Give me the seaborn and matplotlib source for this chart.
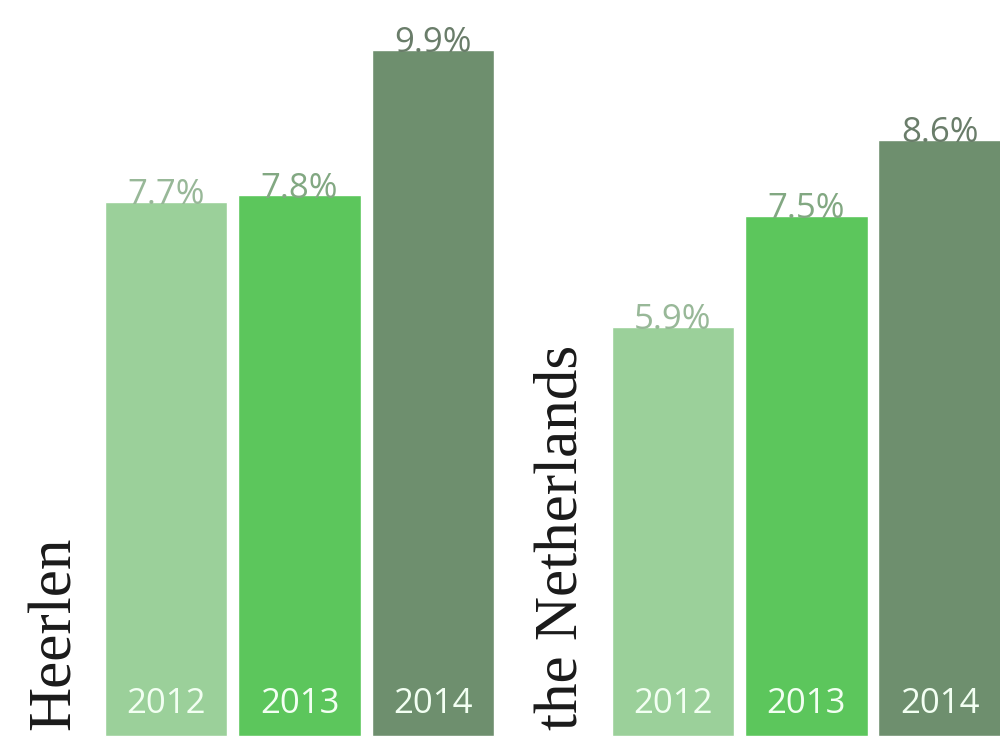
import pandas as pd
import matplotlib
matplotlib.use('Agg')
import matplotlib.pyplot as plt
import seaborn as sns

# Chart data
regions = ['Heerlen', 'the Netherlands']
years = ['2012', '2013', '2014']
heerlen_values = [7.7, 7.8, 9.9]
netherlands_values = [5.9, 7.5, 8.6]

# Styling
bar_colors = ['#9bd09a', '#5cc65c', '#6e8f6e']
label_colors = ['#98b898', '#82a882', '#6a7d6a']

sns.set_theme(style='white')
plt.rcParams['font.family'] = ['Open Sans', 'DejaVu Sans']

df = pd.DataFrame({
    'region': [r for r in regions for _ in years],
    'year': years * len(regions),
    'value': heerlen_values + netherlands_values,
})

fig = plt.figure(figsize=(10, 7.41), dpi=100)
ax = fig.add_axes([0, 0, 1, 1])

sns.barplot(data=df, x='region', y='value', hue='year', order=regions,
            hue_order=years, palette=bar_colors, saturation=1,
            width=0.79, gap=0.08, legend=False, ax=ax)

ax.set_xlim(-0.591, 1.382)
ax.set_ylim(-0.072, 10.62)
ax.axis('off')

# Value labels on top and year labels inside each bar
for container, year, lc in zip(ax.containers, years, label_colors):
    for bar in container:
        cx = bar.get_x() + bar.get_width() / 2
        h = bar.get_height()
        ax.text(cx, h - 0.03, f'{h:.1f}%', ha='center', va='baseline',
                fontsize=25, color=lc)
        ax.text(cx, 0.46, year, ha='center', va='center',
                fontsize=25, color='#f2fff2')

# Rotated region names to the left of each group
for i, name in enumerate(regions):
    ax.text(i - 0.482, 0.09, name, rotation=90, ha='center', va='bottom',
            fontsize=44, color='#1a1a1a', family=['Liberation Serif', 'DejaVu Serif'])

plt.savefig('out.png', dpi=100)
plt.close()
